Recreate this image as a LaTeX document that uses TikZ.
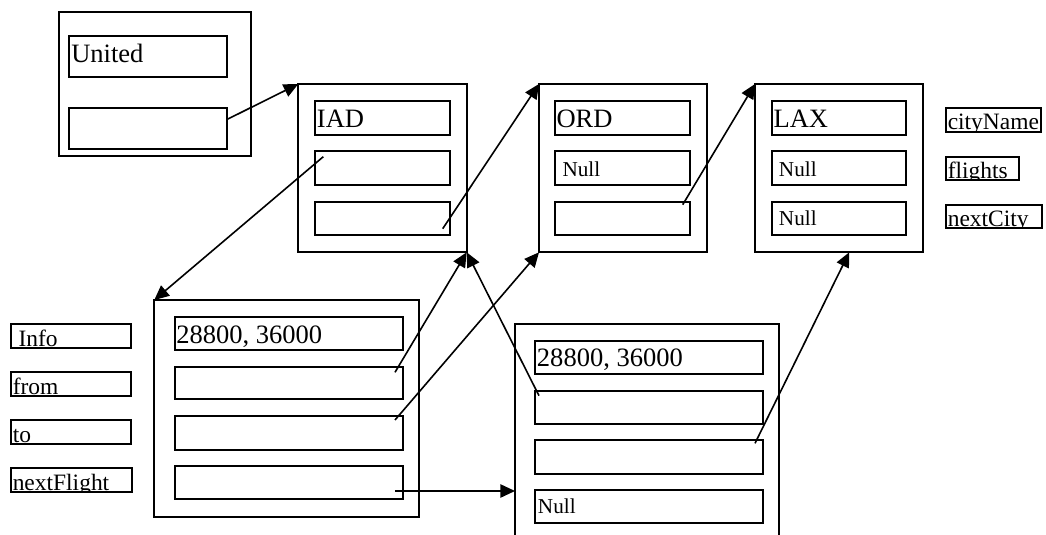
\documentclass[tikz,border=0pt]{standalone}
\usepackage{fontspec}
\setmainfont{Liberation Serif}
\usetikzlibrary{fit,calc,arrows.meta}
\begin{document}
\begin{tikzpicture}[x=0.75pt,y=-0.75pt,
  box/.style={draw,line width=1.6pt,inner sep=0pt,outer sep=0pt},
  lbl/.style={anchor=base west,inner sep=0pt,font=\fontsize{19.9}{22}\selectfont},
  nul/.style={anchor=base west,inner sep=0pt,font=\fontsize{15.9}{18}\selectfont},
  leg/.style={anchor=base west,inner sep=0pt,font=\fontsize{17.6}{20}\selectfont},
  ptr/.style={line width=1.2pt,-{Triangle[length=11pt,width=10pt]}}]
\clip (0,0) rectangle (1046,535);
\fill[white] (0,0) rectangle (1046,535);

% United
\node[box, fit={(58.7,12.3) (251,156)}] (U) {};
\node[box, fit={(69.3,35.7) (227.3,77.3)}] (u1) {};
\node[box, fit={(69.3,107.7) (227.3,149.3)}] (u2) {};
\node[lbl] (tU) at (71,62.3) {United};

% IAD
\node[box, fit={(298.3,84) (466.7,252.3)}] (IAD) {};
\node[box, fit={(315.3,100.7) (450.3,135)}] (iad1) {};
\node[box, fit={(315.3,151) (450.3,185)}] (iad2) {};
\node[box, fit={(315.3,201.7) (450.3,235.3)}] (iad3) {};
\node[lbl] (tIAD) at (316.7,127.3) {IAD};

% ORD
\node[box, fit={(539,84) (706.7,252.3)}] (ORD) {};
\node[box, fit={(555.3,100.7) (690.3,135)}] (ord1) {};
\node[box, fit={(555.3,151) (690.3,185)}] (ord2) {};
\node[box, fit={(555.3,201.7) (690.3,235.3)}] (ord3) {};
\node[lbl] (tORD) at (556.3,127.3) {ORD};
\node[nul] (tORDn) at (562.3,176) {Null};

% LAX
\node[box, fit={(755,84) (923.3,252.3)}] (LAX) {};
\node[box, fit={(771.7,100.7) (906.3,135)}] (lax1) {};
\node[box, fit={(771.7,151) (906.3,185)}] (lax2) {};
\node[box, fit={(771.7,201.7) (906.3,235.3)}] (lax3) {};
\node[lbl] (tLAX) at (773.3,127.3) {LAX};
\node[nul] (tLAXn1) at (778.7,176) {Null};
\node[nul] (tLAXn2) at (778.7,225.3) {Null};

% right legend
\node[box, fit={(945.7,108) (1041,132.3)}] (lgCity) {};
\node[box, fit={(945.7,156.7) (1019.3,180.3)}] (lgFl) {};
\node[box, fit={(945.7,205) (1041.7,227.7)}] (lgNC) {};
\begin{scope}
  \clip (lgCity.south west) rectangle (lgCity.north east);
  \node[leg] (tCity) at (947.5,129.3) {cityName};
\end{scope}
\begin{scope}
  \clip (lgFl.south west) rectangle (lgFl.north east);
  \node[leg] (tFl) at (947.5,178.3) {flights};
\end{scope}
\begin{scope}
  \clip (lgNC.south west) rectangle (lgNC.north east);
  \node[leg] (tNC) at (947.5,226.2) {nextCity};
\end{scope}

% left legend
\node[box, fit={(10.7,324) (131,348.3)}] (lgInfo) {};
\node[box, fit={(10.7,372.3) (131,396.3)}] (lgFrom) {};
\node[box, fit={(10.7,420.3) (131,444.3)}] (lgTo) {};
\node[box, fit={(10.7,467.7) (131.7,491.7)}] (lgNF) {};
\begin{scope}
  \clip (lgInfo.south west) rectangle (lgInfo.north east);
  \node[leg] (tInfo) at (18.3,346.7) {Info};
\end{scope}
\begin{scope}
  \clip (lgFrom.south west) rectangle (lgFrom.north east);
  \node[leg] (tFrom) at (12.5,394.3) {from};
\end{scope}
\begin{scope}
  \clip (lgTo.south west) rectangle (lgTo.north east);
  \node[leg] (tTo) at (12.5,442.7) {to};
\end{scope}
\begin{scope}
  \clip (lgNF.south west) rectangle (lgNF.north east);
  \node[leg] (tNF) at (12.5,490.7) {nextFlight};
\end{scope}

% flight 1
\node[box, fit={(154.3,300) (419.3,516.7)}] (F1) {};
\node[box, fit={(175,316.7) (402.7,350)}] (f1a) {};
\node[box, fit={(175,366.7) (402.7,399.3)}] (f1b) {};
\node[box, fit={(175,416.3) (402.7,450)}] (f1c) {};
\node[box, fit={(175,466) (402.7,499.3)}] (f1d) {};
\node[lbl] (tF1) at (176,343.3) {28800, 36000};

% flight 2
\node[box, fit={(515,324.3) (779.3,560)}] (F2) {};
\node[box, fit={(535,340.7) (762.7,374)}] (f2a) {};
\node[box, fit={(535,390.7) (762.7,423.7)}] (f2b) {};
\node[box, fit={(535,440.3) (762.7,473.7)}] (f2c) {};
\node[box, fit={(535,490) (762.7,523.3)}] (f2d) {};
\node[lbl] (tF2) at (536.7,366.7) {28800, 36000};
\node[nul] (tF2n) at (537.7,513.3) {Null};

% pointers
\draw[ptr] ($(u2.north east)+(0,11.6)$) -- (IAD.north west);
\draw[ptr] ($(iad2.north west)+(8,5.7)$) -- (F1.north west);
\draw[ptr] ($(iad3.south east)+(-7.6,-6.6)$) -- (ORD.north west);
\draw[ptr] ($(ord3.north east)+(-7.6,3)$) -- (LAX.north west);
\draw[ptr] ($(f1b.north east)+(-7.7,5.6)$) -- (IAD.south east);
\draw[ptr] ($(f1c.north east)+(-7.7,3.7)$) -- (ORD.south west);
\coordinate (nfStart) at ($(f1d.south east)+(-7.7,-8.3)$);
\draw[ptr] (nfStart) -- (nfStart -| F2.west);
\draw[ptr] ($(f2b.north west)+(4,5)$) -- (IAD.south east);
\draw[ptr] ($(f2c.north east)+(-7.7,3)$) -- ($(LAX.south west)!0.56!(LAX.south east)$);
\end{tikzpicture}
\end{document}
